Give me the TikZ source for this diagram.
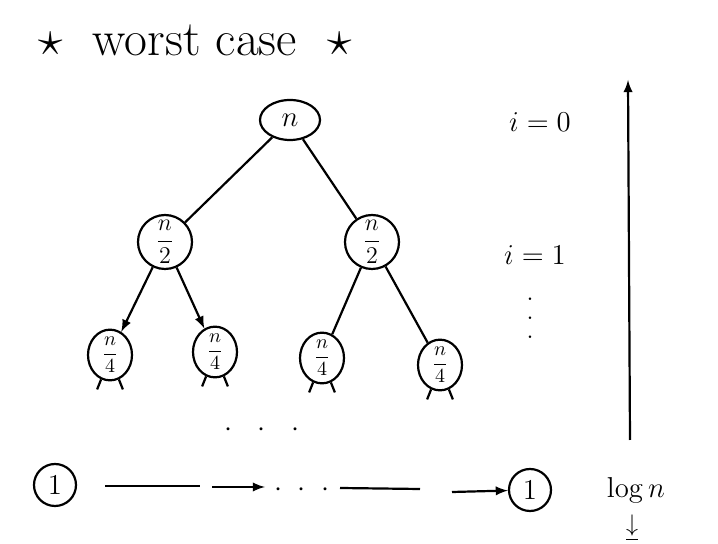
\documentclass[tikz,border=0pt]{standalone}
\usepackage{amsmath, amssymb}
\usetikzlibrary{positioning}
\usetikzlibrary{shapes.geometric}

\tikzset{
  half/.style={draw, line width=1.1pt, circle, minimum size=27pt, inner sep=0pt, font=\large},
  quarter/.style={draw, line width=1.1pt, ellipse, minimum width=22pt, minimum height=25pt, inner sep=0pt, font=\normalsize},
  leaf/.style={draw, line width=1.1pt, circle, minimum size=21pt, inner sep=1pt, font=\Large},
  hand/.style={line width=1.1pt},
}

\begin{document}
\begin{tikzpicture}[>=latex, x=0.5pt, y=-0.5pt]
\useasboundingbox (0,0) rectangle (718,544);

\node[font=\Huge] at (195,40) (title) {$\star$\ \ worst case\ \ $\star$};

% the tree
\node[draw, hand, ellipse, minimum width=30pt, minimum height=20pt, font=\Large] at (290,120) (root) {$n$};

\foreach \name / \x in {l/165, r/372}
  \node[half] at (\x,242) (h\name) {$\dfrac{n}{2}$};

\foreach \name / \x / \y in {ll/110/355, lr/215/352, rl/322/358, rr/440/365}
  \node[quarter] at (\x,\y) (q\name) {$\dfrac{n}{4}$};

\draw[hand] (root) -- (hl);
\draw[hand] (root) -- (hr);
\draw[hand, ->] (hl) -- (qll);
\draw[hand, ->] (hl) -- (qlr);
\draw[hand] (hr) -- (qrl);
\draw[hand] (hr) -- (qrr);

% stubs to the next level
\foreach \q in {ll,lr,rl,rr} {
  \draw[hand] (q\q.250) -- ++(-4,10);
  \draw[hand] (q\q.290) -- ++(4,10);
}

\node[font=\Large] at (262,430) (dots) {$\cdot\ \ \cdot\ \ \cdot$};

% levels
\node[font=\Large] at (540,122) (i0) {$i=0$};
\node[font=\Large] at (535,255) (i1) {$i=1$};
\node[font=\footnotesize\bfseries, align=center, inner sep=0pt] at (530,318) (vd) {.\\.\\.};

\coordinate (htop) at (628,80);
\coordinate (hbot) at (630,440);
\draw[hand, ->] (hbot) -- (htop);

% the leaves
\node[leaf] at (55,485) (one1) {$1$};
\node[leaf] at (530,490) (one2) {$1$};
\node[font=\Large] at (302,490) (bdots) {$\cdot\ \cdot\ \cdot$};

\coordinate (a1) at (105,486);
\coordinate (a2) at (200,486);
\coordinate (a3) at (212,487);
\coordinate (a4) at (265,487);
\coordinate (b1) at (340,488);
\coordinate (b2) at (420,489);
\coordinate (b3) at (452,492);

\draw[hand] (a1) -- (a2);
\draw[hand, ->] (a3) -- (a4);
\draw[hand] (b1) -- (b2);
\draw[hand, ->] (b3) -- (one2);

\node[font=\Large] at (636,490) (logn) {$\log n$};
\node[font=\large] at (632,528) (down) {$\underline{\downarrow}$};
\end{tikzpicture}
\end{document}
